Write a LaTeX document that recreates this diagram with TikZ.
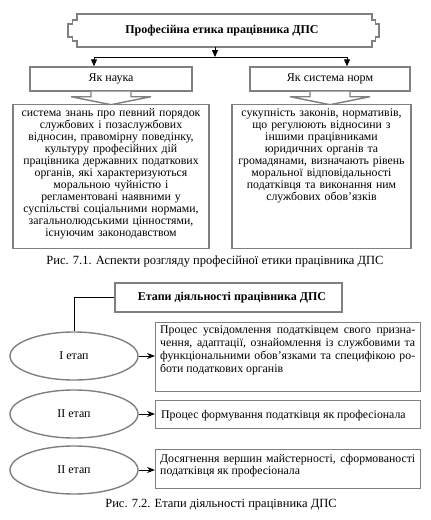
\documentclass[tikz,border=0pt]{standalone}
\usepackage{fontspec}
\setmainfont{Liberation Serif}
\usetikzlibrary{arrows.meta,shapes.geometric,calc}
\definecolor{boxgray}{RGB}{128,128,128}
\begin{document}
\begin{tikzpicture}[x=1pt,y=-1pt,
  gbox/.style={draw=boxgray,line width=1.4pt,fill=white,inner sep=0pt,rectangle},
  ell/.style={draw=boxgray,line width=1.4pt,fill=white,ellipse,inner sep=0pt,minimum width=128pt,minimum height=48pt,font=\fontsize{12}{13}\selectfont},
  body/.style={inner sep=0pt,font=\fontsize{11.8}{12}\selectfont},
  ttl/.style={inner sep=0pt,font=\bfseries\fontsize{12}{13}\selectfont},
  captxt/.style={inner sep=0pt,font=\fontsize{12.5}{14}\selectfont},
  conn/.style={draw=black,line width=1pt},
  tri/.style={conn,-{Triangle[length=7pt,width=6pt]}},
  stl/.style={conn,-{Stealth[length=8pt,width=6pt]}},
  barrow/.style={draw=boxgray,line width=1.4pt,fill=white,line join=miter}
]
\useasboundingbox (0,0) rectangle (431,520);

% ---------- Figure 7.1 ----------
\draw[draw=boxgray,line width=1.4pt,fill=white]
  (77,14) -- (372,14) -- (372,20) -- (375.5,20) -- (375.5,24) -- (379,24)
  -- (379,37) -- (375.5,37) -- (375.5,41) -- (372,41) -- (372,47) -- (77,47)
  -- (77,41) -- (72.5,41) -- (72.5,37) -- (68,37) -- (68,24) -- (72.5,24)
  -- (72.5,20) -- (77,20) -- cycle;
\node[ttl] (title) at (222,30.5) {Професійна етика працівника ДПС};
\coordinate (tb) at (215,47);
\coordinate (j) at (215,57);
\coordinate (jl) at (94,57);
\coordinate (jr) at (347,57);

\node[gbox,minimum width=162pt,minimum height=24pt,font=\fontsize{12}{13}\selectfont] (nauka) at (111,79) {Як наука};
\node[gbox,minimum width=160pt,minimum height=24pt,font=\fontsize{12}{13}\selectfont] (norm) at (330,79) {Як система норм};

\draw[tri] (tb) -- (j);
\draw[conn] (jl) -- (jr);
\draw[tri] (jl) -- (jl |- nauka.north);
\draw[tri] (jr) -- (jr |- norm.north);

% block arrows
\draw[barrow] ($(nauka.south)+(-20,0)$) -- ++(0,5) -- ++(-20,0) -- ($(nauka.south)+(0,13)$)
  -- ($(nauka.south)+(40,5)$) -- ++(-20,0) -- ++(0,-5);
\draw[barrow] ($(norm.south)+(-20,0)$) -- ++(0,5) -- ++(-20,0) -- ($(norm.south)+(0,13)$)
  -- ($(norm.south)+(40,5)$) -- ++(-20,0) -- ++(0,-5);

\node[gbox,anchor=north,minimum width=196pt,minimum height=144pt] (lt) at (111,103.5) {};
\node[gbox,anchor=north,minimum width=179pt,minimum height=144pt] (rt) at (321.5,103.5) {};
\node[body,anchor=north,text width=194pt,align=center] (ltxt) at ([yshift=-5pt]lt.north)
 {система знань про певний порядок\\
  службових і позаслужбових\\
  відносин, правомірну поведінку,\\
  культуру професійних дій\\
  працівника державних податкових\\
  органів, які характеризуються\\
  моральною чуйністю і\\
  регламентовані наявними у\\
  суспільстві соціальними нормами,\\
  загальнолюдськими цінностями,\\
  існуючим законодавством};
\node[body,anchor=north,text width=177pt,align=center] (rtxt) at ([yshift=-5pt]rt.north)
 {сукупність законів, нормативів,\\
  що регулюють відносини з\\
  іншими працівниками\\
  юридичних органів та\\
  громадянами, визначають рівень\\
  моральної відповідальності\\
  податківця та виконання ним\\
  службових обов’язків};

\node[captxt] (cap1) at (215,262) {Рис. 7.1. Аспекти розгляду професійної етики працівника ДПС};

% ---------- Figure 7.2 ----------
\node[gbox,minimum width=227pt,minimum height=29pt] (et) at (228.5,297.5) {};
\node[ttl] (ettxt) at (232,297.5) {Етапи діяльності працівника ДПС};

\node[ell] (e1) at (74,356) {I етап};
\node[ell] (e2) at (74,414) {II етап};
\node[ell] (e3) at (74,470) {II етап};

\node[gbox,anchor=north west,minimum width=265pt,minimum height=69pt] (b1) at (155,322) {};
\node[gbox,anchor=north west,minimum width=265pt,minimum height=28pt] (b2) at (155,400) {};
\node[gbox,anchor=north west,minimum width=265pt,minimum height=39pt] (b3) at (155,449) {};

\node[body,font=\fontsize{11.8}{13}\selectfont,anchor=north west,text width=255pt,align=justify] (b1t) at ([xshift=5pt,yshift=-3pt]b1.north west)
 {Процес усвідомлення податківцем свого призна-\linebreak
  чення, адаптації, ознайомлення із службовими та\linebreak
  функціональними обов’язками та специфікою ро-\linebreak
  боти податкових органів};
\node[body,anchor=west] (b2t) at ([xshift=6pt,yshift=-1pt]b2.west) {Процес формування податківця як професіонала};
\node[body,anchor=north west,text width=255pt,align=justify] (b3t) at ([xshift=5pt,yshift=-5pt]b3.north west)
 {Досягнення вершин майстерності, сформованості\linebreak
  податківця як професіонала};

\draw[conn] (et.west) -| (e1.north);
\draw[stl] (e1.east) -- (e1.east -| b1.west);
\draw[stl] (e2.east) -- (e2.east -| b2.west);
\draw[stl] (e3.east) -- (e3.east -| b3.west);

\node[captxt] (cap2) at (221,505) {Рис. 7.2. Етапи діяльності працівника ДПС};
\end{tikzpicture}
\end{document}
